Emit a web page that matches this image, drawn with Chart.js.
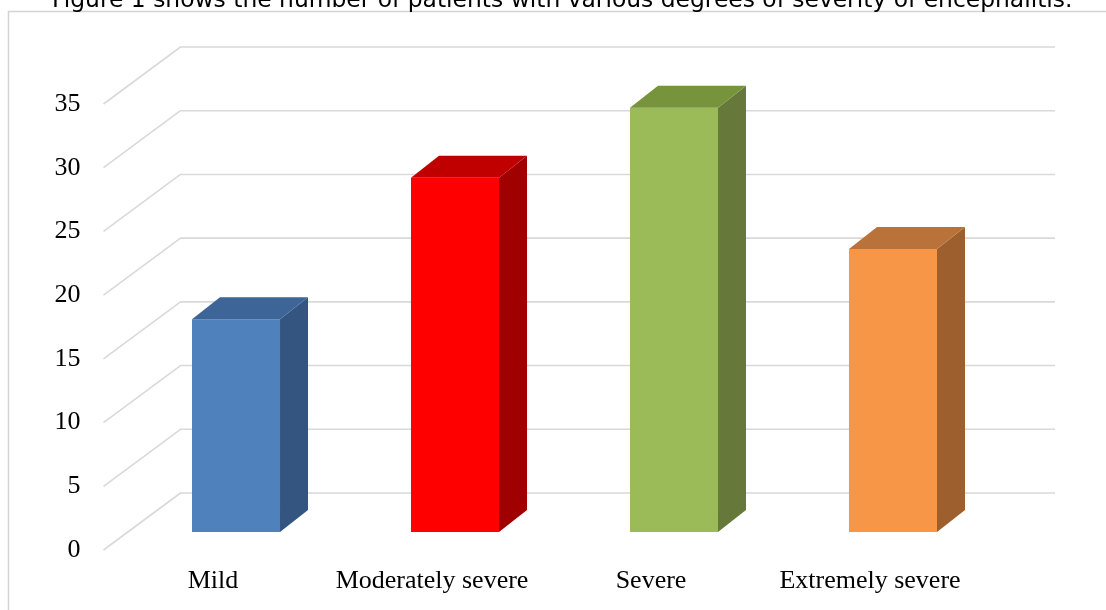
<!DOCTYPE html>
<html>
<head>
<meta charset="utf-8">
<script src="https://cdn.jsdelivr.net/npm/chart.js@4/dist/chart.umd.min.js"></script>
<style>
  html, body { margin: 0; padding: 0; background: #ffffff; }
  canvas { display: block; }
</style>
</head>
<body>
<canvas id="chart" width="1106" height="610"></canvas>
<script>
// ---- data ----
const categories = ['Mild', 'Moderately severe', 'Severe', 'Extremely severe'];
const patientShares = [16.7, 27.8, 33.3, 22.2];
const yMin = 0;
const yMax = 35;
const yStep = 5;
const caption = 'Figure 1 shows the number of patients with various degrees of severity of encephalitis.';

// ---- styling ----
const frontColors = ['#4f81bd', '#ff0000', '#9bbb59', '#f79646'];
const topColors   = ['#3d6597', '#c00000', '#77933c', '#b9733a'];
const sideColors  = ['#33557f', '#a00000', '#66793a', '#9c5f2d'];
const gridColor = '#d9d9d9';

// oblique projection: bar depth and wall offsets (pixels)
const BAR_DX = 28, BAR_DY = 22;
const FLOOR_FRONT_DY = 18;   // front edge of the floor below the bar plane
const WALL_BACK_DY = 39;     // back wall above the bar plane
const FLOOR_FRONT_DX = -23;  // front edge x relative to plot left
const WALL_BACK_DX = 54;     // back wall x relative to plot left
const WALL_RIGHT = 1055;

// frame and caption behind everything
const backdrop = {
  id: 'backdrop',
  beforeDraw(chart) {
    const ctx = chart.ctx;
    ctx.save();
    ctx.strokeStyle = '#d4d4d4';
    ctx.lineWidth = 1.5;
    ctx.strokeRect(8.5, 11.5, 1200, 700);
    ctx.fillStyle = '#000000';
    ctx.font = '23.4px "DejaVu Sans"';
    ctx.textBaseline = 'alphabetic';
    ctx.textAlign = 'left';
    ctx.fillText(caption, 52, 7);
    ctx.restore();
  }
};

// 3D wall gridlines: floor-edge diagonal plus horizontal line on the back wall
const wallGrid = {
  id: 'wallGrid',
  beforeDatasetsDraw(chart) {
    const ctx = chart.ctx;
    const ys = chart.scales.y;
    const left = chart.chartArea.left;
    ctx.save();
    ctx.strokeStyle = gridColor;
    ctx.lineWidth = 1.6;
    ctx.lineJoin = 'round';
    ys.ticks.forEach(t => {
      const py = ys.getPixelForValue(t.value);
      ctx.beginPath();
      ctx.moveTo(left + FLOOR_FRONT_DX, py + FLOOR_FRONT_DY);
      ctx.lineTo(left + WALL_BACK_DX, py - WALL_BACK_DY);
      ctx.lineTo(WALL_RIGHT, py - WALL_BACK_DY);
      ctx.stroke();
    });
    ctx.restore();
  }
};

// top and side faces of each bar, built from the bar element geometry
const barFaces = {
  id: 'barFaces',
  afterDatasetsDraw(chart) {
    const ctx = chart.ctx;
    const meta = chart.getDatasetMeta(0);
    ctx.save();
    meta.data.forEach((bar, i) => {
      const p = bar.getProps(['x', 'y', 'base', 'width'], true);
      const l = p.x - p.width / 2;
      const r = p.x + p.width / 2;
      const top = Math.min(p.y, p.base);
      const bottom = Math.max(p.y, p.base);
      // side
      ctx.fillStyle = sideColors[i];
      ctx.beginPath();
      ctx.moveTo(r, top);
      ctx.lineTo(r + BAR_DX, top - BAR_DY);
      ctx.lineTo(r + BAR_DX, bottom - BAR_DY);
      ctx.lineTo(r, bottom);
      ctx.closePath();
      ctx.fill();
      // top
      ctx.fillStyle = topColors[i];
      ctx.beginPath();
      ctx.moveTo(l, top);
      ctx.lineTo(l + BAR_DX, top - BAR_DY);
      ctx.lineTo(r + BAR_DX, top - BAR_DY);
      ctx.lineTo(r, top);
      ctx.closePath();
      ctx.fill();
    });
    ctx.restore();
  }
};

new Chart(document.getElementById('chart'), {
  type: 'bar',
  data: {
    labels: categories,
    datasets: [{
      data: patientShares,
      backgroundColor: frontColors,
      borderWidth: 0,
      barPercentage: 0.402,
      categoryPercentage: 1
    }]
  },
  options: {
    responsive: false,
    animation: false,
    devicePixelRatio: 1,
    layout: { padding: { top: 86, left: 0, right: 103.5, bottom: 0 } },
    plugins: {
      legend: { display: false },
      tooltip: { enabled: false },
      title: { display: false }
    },
    scales: {
      x: {
        grid: { display: false, drawTicks: false },
        border: { display: false },
        ticks: {
          color: '#000000',
          font: { family: '"Liberation Serif"', size: 26 },
          padding: 34,
          labelOffset: -23,
          maxRotation: 0,
          autoSkip: false
        },
        afterFit(s) { s.height = 78; s.paddingLeft = 0; s.paddingRight = 0; }
      },
      y: {
        min: yMin,
        max: yMax,
        grid: { display: false, drawTicks: false },
        border: { display: false },
        ticks: {
          stepSize: yStep,
          color: '#000000',
          font: { family: '"Liberation Serif"', size: 26 },
          padding: 46,
          labelOffset: FLOOR_FRONT_DY
        },
        afterFit(s) { s.width = 126.5; s.paddingTop = 0; s.paddingBottom = 0; }
      }
    }
  },
  plugins: [backdrop, wallGrid, barFaces]
});
</script>
</body>
</html>
